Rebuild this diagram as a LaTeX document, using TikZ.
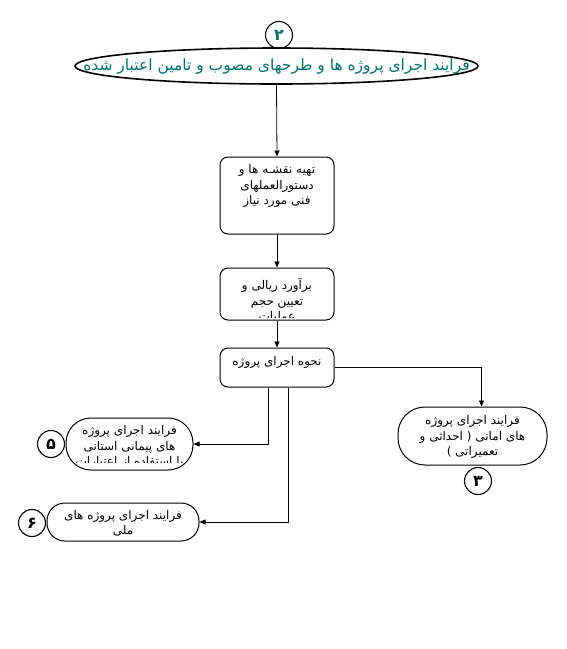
\documentclass[tikz,border=0pt]{standalone}
\usepackage{fontspec}
\usepackage{xcolor}
\usepackage{tikz}
\usetikzlibrary{arrows.meta, positioning, shapes.geometric}
\newfontfamily\farsi[Script=Arabic]{DejaVu Sans}
\TeXXeTstate=1
\definecolor{titleteal}{RGB}{0,112,112}
\newcommand{\fa}[1]{\beginR #1\endR}

\begin{document}
\begin{tikzpicture}[x=1pt, y=-1pt,
		box/.style={draw, line width=1pt, rounded corners=8pt, minimum width=114pt},
		term/.style={draw, line width=1pt, minimum width=#1},
		num/.style={draw, circle, line width=1.1pt, minimum size=27pt, inner sep=0pt, font=\farsi\bfseries\fontsize{16}{16}\selectfont},
		txt/.style={font=\farsi\fontsize{12}{15.5}\selectfont, align=center, inner sep=0pt},
		flow/.style={line width=0.8pt, -{Triangle[length=6pt, width=5pt]}}]
	\useasboundingbox (0,0) rectangle (567,649);
	% Paths, nodes and wires:
	\node[num, text=titleteal](C2) at (279, 35){\fa{۲}};
	\node[draw, ellipse, line width=1.6pt, minimum width=403pt, minimum height=36pt, inner sep=0pt](E1) at (276.5, 66){};
	\node[txt, text=titleteal, font=\farsi\fontsize{15.5}{17}\selectfont](E1t) at (E1){\fa{فرایند اجرای پروژه ها و طرحهای مصوب و تامین اعتبار شده}};
	\node[box, minimum height=77pt](B1) at (277, 195.5){};
	\node[txt, anchor=north](B1t) at ([yshift=-8pt]B1.north){\fa{تهیه نقشـه ها و}\\\fa{دستورالعملهای}\\\fa{فنی مورد نیاز}};
	\node[box, minimum height=52pt](B2) at (277, 294){};
	\begin{scope}
		\clip ([xshift=1pt, yshift=3pt]B2.south west) rectangle ([xshift=-1pt, yshift=4pt]B2.north east);
		\node[txt, anchor=north](B2t) at ([yshift=-11pt]B2.north){\fa{برآورد ریالی و}\\\fa{تعیین حجم}\\\fa{عملیات}};
	\end{scope}
	\node[box, minimum height=39pt](B3) at (277, 367.5){};
	\node[txt, anchor=north](B3t) at ([yshift=-9pt]B3.north){\fa{نحوه اجرای پروژه}};
	\node[term=149pt, minimum height=58pt, rounded corners=27pt](T3) at (472.5, 436){};
	\node[txt](T3t) at ([yshift=-1pt]T3){\fa{فرایند اجرای پروژه}\\\fa{های امانی ( احداثی و}\\\fa{تعمیراتی )}};
	\node[num](C3) at (478, 481){\fa{۳}};
	\node[term=127pt, minimum height=52pt, rounded corners=25pt](T5) at (129.5, 444){};
	\begin{scope}
		\clip ([xshift=1pt, yshift=8pt]T5.south west) rectangle ([xshift=-1pt, yshift=1pt]T5.north east);
		\node[txt, anchor=north](T5t) at ([yshift=-8pt]T5.north){\fa{فرایند اجرای پروژه}\\\fa{های پیمانی استانی}\\\fa{با استفاده از اعتبارات}};
	\end{scope}
	\node[num](C5) at (51, 444){\fa{۵}};
	\node[term=152pt, minimum height=38pt, rounded corners=18pt](T6) at (123, 522){};
	\node[txt](T6t) at ([yshift=-1pt]T6){\fa{فرایند اجرای پروژه های}\\\fa{ملی}};
	\node[num](C6) at (32, 523){\fa{۶}};
	\draw[flow] (E1.south) -- (B1.north);
	\draw[flow] (B1.south) -- (B2.north);
	\draw[flow] (B2.south) -- (B3.north);
	\draw[flow] (B3.east) -| ([xshift=9pt]T3.north);
	\draw[flow] ([xshift=-9pt]B3.south) |- (T5.east);
	\draw[flow] ([xshift=11pt]B3.south) |- (T6.east);
\end{tikzpicture}
\end{document}
